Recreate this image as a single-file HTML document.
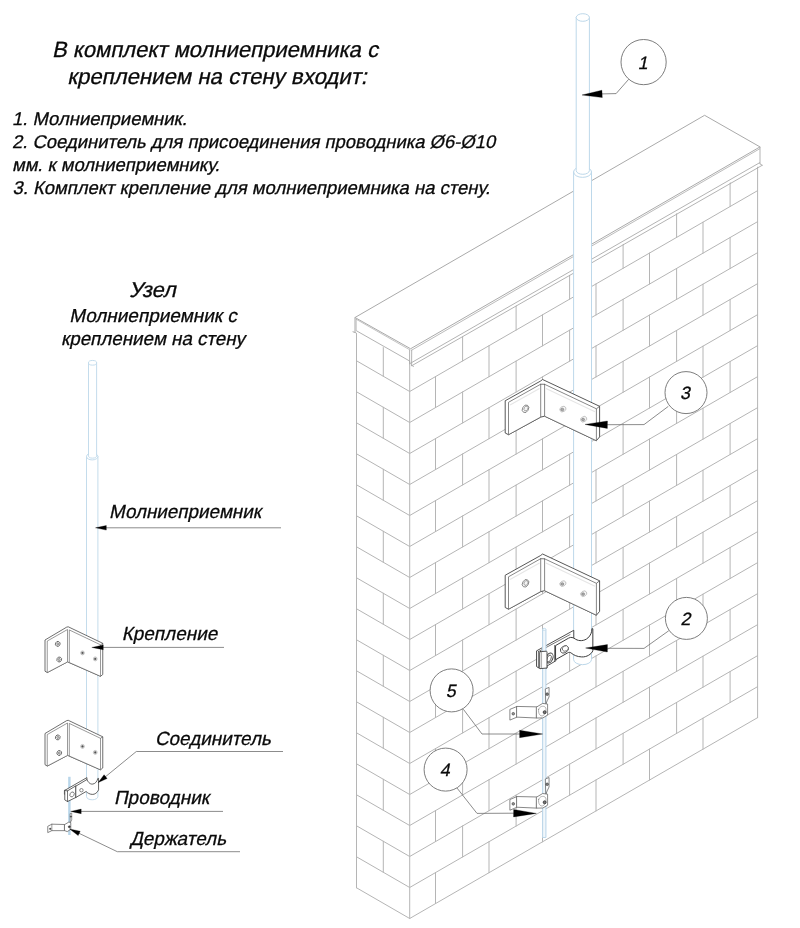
<!DOCTYPE html>
<html lang="ru"><head><meta charset="utf-8"><title>Молниеприемник с креплением на стену</title>
<style>
html,body{margin:0;padding:0;background:#fff;}
body{width:800px;height:928px;overflow:hidden;}
svg{display:block;will-change:transform;}
.t{font-family:"Liberation Sans",Arial,sans-serif;font-style:normal;fill:#0a0a0a;stroke:#0a0a0a;stroke-width:0.3px;}
</style></head><body>
<svg width="800" height="928" viewBox="0 0 800 928">
<rect width="800" height="928" fill="#fff"/>
<g id="wall">
<polygon points="409.7,360.5 757.6,159.64 757.6,717.64 409.7,918.5" fill="#fff" stroke="none" stroke-width="0" stroke-linejoin="round" />
<polygon points="409.7,360.5 356.5,329.78 356.5,887.78 409.7,918.5" fill="#fff" stroke="none" stroke-width="0" stroke-linejoin="round" />
<path d="M356.5 887.78 L409.7 918.5 L757.6 717.64 M356.5 856.78 L409.7 887.5 L757.6 686.64 M356.5 825.78 L409.7 856.5 L757.6 655.64 M356.5 794.78 L409.7 825.5 L757.6 624.64 M356.5 763.78 L409.7 794.5 L757.6 593.64 M356.5 732.78 L409.7 763.5 L757.6 562.64 M356.5 701.78 L409.7 732.5 L757.6 531.64 M356.5 670.78 L409.7 701.5 L757.6 500.64 M356.5 639.78 L409.7 670.5 L757.6 469.64 M356.5 608.78 L409.7 639.5 L757.6 438.64 M356.5 577.78 L409.7 608.5 L757.6 407.64 M356.5 546.78 L409.7 577.5 L757.6 376.64 M356.5 515.78 L409.7 546.5 L757.6 345.64 M356.5 484.78 L409.7 515.5 L757.6 314.64 M356.5 453.78 L409.7 484.5 L757.6 283.64 M356.5 422.78 L409.7 453.5 L757.6 252.64 M356.5 391.78 L409.7 422.5 L757.6 221.64 M356.5 360.78 L409.7 391.5 L757.6 190.64 M435.5 903.6 L435.5 872.6 M489 872.72 L489 841.72 M542.5 841.83 L542.5 810.83 M596 810.94 L596 779.94 M649.5 780.05 L649.5 749.05 M703 749.16 L703 718.16 M383.3 872.26 L383.3 841.26 M462.6 856.96 L462.6 825.96 M516.1 826.07 L516.1 795.07 M569.6 795.18 L569.6 764.18 M623.1 764.29 L623.1 733.29 M676.6 733.41 L676.6 702.41 M730.1 702.52 L730.1 671.52 M435.5 841.6 L435.5 810.6 M489 810.72 L489 779.72 M542.5 779.83 L542.5 748.83 M596 748.94 L596 717.94 M649.5 718.05 L649.5 687.05 M703 687.16 L703 656.16 M383.3 810.26 L383.3 779.26 M462.6 794.96 L462.6 763.96 M516.1 764.07 L516.1 733.07 M569.6 733.18 L569.6 702.18 M623.1 702.29 L623.1 671.29 M676.6 671.41 L676.6 640.41 M730.1 640.52 L730.1 609.52 M435.5 779.6 L435.5 748.6 M489 748.72 L489 717.72 M542.5 717.83 L542.5 686.83 M596 686.94 L596 655.94 M649.5 656.05 L649.5 625.05 M703 625.16 L703 594.16 M383.3 748.26 L383.3 717.26 M462.6 732.96 L462.6 701.96 M516.1 702.07 L516.1 671.07 M569.6 671.18 L569.6 640.18 M623.1 640.29 L623.1 609.29 M676.6 609.41 L676.6 578.41 M730.1 578.52 L730.1 547.52 M435.5 717.6 L435.5 686.6 M489 686.72 L489 655.72 M542.5 655.83 L542.5 624.83 M596 624.94 L596 593.94 M649.5 594.05 L649.5 563.05 M703 563.16 L703 532.16 M383.3 686.26 L383.3 655.26 M462.6 670.96 L462.6 639.96 M516.1 640.07 L516.1 609.07 M569.6 609.18 L569.6 578.18 M623.1 578.29 L623.1 547.29 M676.6 547.41 L676.6 516.41 M730.1 516.52 L730.1 485.52 M435.5 655.6 L435.5 624.6 M489 624.72 L489 593.72 M542.5 593.83 L542.5 562.83 M596 562.94 L596 531.94 M649.5 532.05 L649.5 501.05 M703 501.16 L703 470.16 M383.3 624.26 L383.3 593.26 M462.6 608.96 L462.6 577.96 M516.1 578.07 L516.1 547.07 M569.6 547.18 L569.6 516.18 M623.1 516.29 L623.1 485.29 M676.6 485.41 L676.6 454.41 M730.1 454.52 L730.1 423.52 M435.5 593.6 L435.5 562.6 M489 562.72 L489 531.72 M542.5 531.83 L542.5 500.83 M596 500.94 L596 469.94 M649.5 470.05 L649.5 439.05 M703 439.16 L703 408.16 M383.3 562.26 L383.3 531.26 M462.6 546.96 L462.6 515.96 M516.1 516.07 L516.1 485.07 M569.6 485.18 L569.6 454.18 M623.1 454.29 L623.1 423.29 M676.6 423.41 L676.6 392.41 M730.1 392.52 L730.1 361.52 M435.5 531.6 L435.5 500.6 M489 500.72 L489 469.72 M542.5 469.83 L542.5 438.83 M596 438.94 L596 407.94 M649.5 408.05 L649.5 377.05 M703 377.16 L703 346.16 M383.3 500.26 L383.3 469.26 M462.6 484.96 L462.6 453.96 M516.1 454.07 L516.1 423.07 M569.6 423.18 L569.6 392.18 M623.1 392.29 L623.1 361.29 M676.6 361.41 L676.6 330.41 M730.1 330.52 L730.1 299.52 M435.5 469.6 L435.5 438.6 M489 438.72 L489 407.72 M542.5 407.83 L542.5 376.83 M596 376.94 L596 345.94 M649.5 346.05 L649.5 315.05 M703 315.16 L703 284.16 M383.3 438.26 L383.3 407.26 M462.6 422.96 L462.6 391.96 M516.1 392.07 L516.1 361.07 M569.6 361.18 L569.6 330.18 M623.1 330.29 L623.1 299.29 M676.6 299.41 L676.6 268.41 M730.1 268.52 L730.1 237.52 M435.5 407.6 L435.5 376.6 M489 376.72 L489 345.72 M542.5 345.83 L542.5 314.83 M596 314.94 L596 283.94 M649.5 284.05 L649.5 253.05 M703 253.16 L703 222.16 M383.3 376.26 L383.3 345.26 M462.6 360.96 L462.6 329.96 M516.1 330.07 L516.1 299.07 M569.6 299.18 L569.6 268.18 M623.1 268.29 L623.1 237.29 M676.6 237.41 L676.6 206.41 M730.1 206.52 L730.1 175.52 M409.7 360.5 L409.7 918.5 M356.5 329.78 L356.5 887.78 M757.6 159.64 L757.6 717.64" fill="none" stroke="#b5b5b5" stroke-width="1" stroke-linejoin="round" stroke-linecap="round" />
</g>
<g id="cap">
<polygon points="355,317.5 410.6,348.75 760,146.9 704.6,115.3" fill="#fff" stroke="none" stroke-width="0" stroke-linejoin="round" />
<polygon points="410.6,348.75 760,146.9 760.6,165.1 411.6,365.8" fill="#fff" stroke="none" stroke-width="0" stroke-linejoin="round" />
<polygon points="355,317.5 410.6,348.75 410.6,361.5 355.3,332.3" fill="#fff" stroke="none" stroke-width="0" stroke-linejoin="round" />
<path d="M355 317.5 L704.6 115.3 L760 146.9" fill="none" stroke="#aaaaaa" stroke-width="1" stroke-linejoin="round" stroke-linecap="round" />
<line x1="355" y1="317.5" x2="410.6" y2="348.75" stroke="#aaaaaa" stroke-width="1" />
<line x1="355.9" y1="319.1" x2="410.2" y2="350.05" stroke="#aaaaaa" stroke-width="0.7" />
<line x1="410.6" y1="348.75" x2="760" y2="146.9" stroke="#aaaaaa" stroke-width="1" />
<line x1="411.2" y1="350.45" x2="760" y2="148.6" stroke="#aaaaaa" stroke-width="0.8" />
<line x1="410" y1="363.5" x2="760" y2="162.5" stroke="#aaaaaa" stroke-width="0.9" />
<line x1="411.6" y1="365.8" x2="762.2" y2="165.3" stroke="#aaaaaa" stroke-width="0.9" />
<line x1="409.6" y1="349.75" x2="409.6" y2="364.3" stroke="#aaaaaa" stroke-width="0.9" />
<line x1="411.7" y1="349.75" x2="411.6" y2="365.8" stroke="#aaaaaa" stroke-width="0.9" />
<path d="M411.3 365.2 l2.2 1.2" fill="none" stroke="#aaaaaa" stroke-width="0.9" stroke-linejoin="round" stroke-linecap="round" />
<line x1="760" y1="146.9" x2="760" y2="164.1" stroke="#aaaaaa" stroke-width="0.9" />
<path d="M760 163.9 l2.4 1.4" fill="none" stroke="#aaaaaa" stroke-width="0.9" stroke-linejoin="round" stroke-linecap="round" />
<line x1="355" y1="317.5" x2="355" y2="332.3" stroke="#aaaaaa" stroke-width="1" />
<line x1="356.2" y1="319" x2="356.2" y2="330.8" stroke="#aaaaaa" stroke-width="0.7" />
<path d="M355.6 332.7 l-2.6 -0.9" fill="none" stroke="#aaaaaa" stroke-width="1" stroke-linejoin="round" stroke-linecap="round" />
<line x1="356.3" y1="330.7" x2="409.6" y2="361" stroke="#aaaaaa" stroke-width="0.9" />
</g>
<g id="rod">
<path d="M573.6 172 L573.6 659.5 A8.95 5.17 0 0 0 591.5 659.5 L591.5 172 Z" fill="#fff" stroke="none" stroke-width="0" stroke-linejoin="round" stroke-linecap="round" />
<ellipse cx="582.55" cy="172" rx="8.95" ry="5.37" fill="#fff" stroke="#bdd8ea" stroke-width="1" />
<path d="M573.6 172 L573.6 659.5 A8.95 5.17 0 0 0 591.5 659.5 L591.5 172" fill="none" stroke="#bdd8ea" stroke-width="1" stroke-linejoin="round" stroke-linecap="round" />
<path d="M576.2 17.5 L576.2 170.5 A6.6 3.81 0 0 0 589.4 170.5 L589.4 17.5 Z" fill="#fff" stroke="#bdd8ea" stroke-width="1" stroke-linejoin="round" stroke-linecap="round" />
<ellipse cx="582.8" cy="17.5" rx="6.6" ry="3.81" fill="#fff" stroke="#bdd8ea" stroke-width="1" />
</g>
<g id="brackets">
<g>
<polygon points="505.2,400.75 540.3,381.2 542.6,379.5 599.6,406.3 599.6,436.9 596.4,440.7 544.6,416.2 540.7,417.1 508.5,434.7 505.2,433" fill="#fff" stroke="#444" stroke-width="0.9" stroke-linejoin="round" />
<polygon points="508.5,402.3 540.7,384.2 540.7,417.1 508.5,434.7" fill="#fff" stroke="#555" stroke-width="0.7" stroke-linejoin="round" />
<polygon points="544.6,384.3 596.4,408.8 596.4,440.7 544.6,416.2" fill="#fff" stroke="#555" stroke-width="0.7" stroke-linejoin="round" />
<path d="M540.7 384.2 L544.6 384.3" fill="none" stroke="#3c3c3c" stroke-width="0.7" stroke-linejoin="round" stroke-linecap="round" />
<line x1="596.4" y1="408.8" x2="599.6" y2="406.3" stroke="#3c3c3c" stroke-width="0.7" />
<line x1="510" y1="405" x2="539.5" y2="388.5" stroke="#e6e6e6" stroke-width="1.2" />
<line x1="546" y1="388.5" x2="595" y2="411.8" stroke="#e6e6e6" stroke-width="1.2" />
<ellipse cx="525.5" cy="408.8" rx="2.94" ry="4" fill="#fff" stroke="#666" stroke-width="0.7" transform="rotate(30 525.5 408.8)"/>
<ellipse cx="526" cy="408.5" rx="1.86" ry="2.56" fill="#f4f4f4" stroke="#777" stroke-width="0.6" transform="rotate(30 526 408.5)"/>
<ellipse cx="562.9" cy="409.1" rx="3.24" ry="2.56" fill="#f6f6f6" stroke="#a8a8a8" stroke-width="0.6" transform="rotate(-30 562.9 409.1)"/>
<ellipse cx="562.3" cy="409.5" rx="1.49" ry="1.35" fill="#aaa" stroke="#6a6a6a" stroke-width="0.5" />
<ellipse cx="583.7" cy="419.2" rx="3.24" ry="2.56" fill="#f6f6f6" stroke="#a8a8a8" stroke-width="0.6" transform="rotate(-30 583.7 419.2)"/>
<ellipse cx="583.1" cy="419.6" rx="1.49" ry="1.35" fill="#aaa" stroke="#6a6a6a" stroke-width="0.5" />
</g>
<g>
<polygon points="505.2,575.25 540.3,555.7 542.6,554 599.6,580.8 599.6,611.4 596.4,615.2 544.6,590.7 540.7,591.6 508.5,609.2 505.2,607.5" fill="#fff" stroke="#444" stroke-width="0.9" stroke-linejoin="round" />
<polygon points="508.5,576.8 540.7,558.7 540.7,591.6 508.5,609.2" fill="#fff" stroke="#555" stroke-width="0.7" stroke-linejoin="round" />
<polygon points="544.6,558.8 596.4,583.3 596.4,615.2 544.6,590.7" fill="#fff" stroke="#555" stroke-width="0.7" stroke-linejoin="round" />
<path d="M540.7 558.7 L544.6 558.8" fill="none" stroke="#3c3c3c" stroke-width="0.7" stroke-linejoin="round" stroke-linecap="round" />
<line x1="596.4" y1="583.3" x2="599.6" y2="580.8" stroke="#3c3c3c" stroke-width="0.7" />
<line x1="510" y1="579.5" x2="539.5" y2="563" stroke="#e6e6e6" stroke-width="1.2" />
<line x1="546" y1="563" x2="595" y2="586.3" stroke="#e6e6e6" stroke-width="1.2" />
<ellipse cx="525.5" cy="583.3" rx="2.94" ry="4" fill="#fff" stroke="#666" stroke-width="0.7" transform="rotate(30 525.5 583.3)"/>
<ellipse cx="526" cy="583" rx="1.86" ry="2.56" fill="#f4f4f4" stroke="#777" stroke-width="0.6" transform="rotate(30 526 583)"/>
<ellipse cx="562.9" cy="583.6" rx="3.24" ry="2.56" fill="#f6f6f6" stroke="#a8a8a8" stroke-width="0.6" transform="rotate(-30 562.9 583.6)"/>
<ellipse cx="562.3" cy="584" rx="1.49" ry="1.35" fill="#aaa" stroke="#6a6a6a" stroke-width="0.5" />
<ellipse cx="583.7" cy="593.7" rx="3.24" ry="2.56" fill="#f6f6f6" stroke="#a8a8a8" stroke-width="0.6" transform="rotate(-30 583.7 593.7)"/>
<ellipse cx="583.1" cy="594.1" rx="1.49" ry="1.35" fill="#aaa" stroke="#6a6a6a" stroke-width="0.5" />
</g>
</g>
<g id="clamp">
<path d="M 536.88 650.69 L 573.75 630.31 L 573.75 638.5 L 555.94 648.5 L 555.94 660.69 L 546.88 666.12 L 546.88 668.19 L 539.69 668.5 L 536.88 666.75 Z" fill="#fff" stroke="#3c3c3c" stroke-width="0.9" stroke-linejoin="round" stroke-linecap="round" />
<path d="M 538.44 651.62 L 570 634.62 M 538.44 651.62 L 538.44 667.56" fill="none" stroke="#3c3c3c" stroke-width="0.7" stroke-linejoin="round" stroke-linecap="round" />
<rect x="542.6" y="629.5" width="3.3" height="208" fill="#f1f7fb" stroke="none"/>
<line x1="542.6" y1="629.5" x2="542.6" y2="837.5" stroke="#bdd8ea" stroke-width="1.1" />
<line x1="545.9" y1="629.5" x2="545.9" y2="837.5" stroke="#bdd8ea" stroke-width="1.1" />
<ellipse cx="544.25" cy="629.3" rx="1.65" ry="1" fill="#fff" stroke="#bdd8ea" stroke-width="0.9" />
<line x1="542.6" y1="837.5" x2="545.9" y2="837.5" stroke="#bdd8ea" stroke-width="1" />
<ellipse cx="549.5" cy="658" rx="3.3" ry="5.2" fill="#fff" stroke="#3c3c3c" stroke-width="0.9" transform="rotate(22 549.5 658)"/>
<ellipse cx="549.12" cy="658.5" rx="1.9" ry="3.6" fill="#fff" stroke="#3c3c3c" stroke-width="0.7" transform="rotate(22 549.12 658.5)"/>
<path d="M 540.31 651.62 L 546.38 651.19 C 546.88 651.19 547 651.62 547 652.25 L 547 668 L 540.31 668.62 C 539.81 668.62 539.69 668.19 539.69 667.75 L 539.69 652.38 C 539.69 651.88 539.88 651.62 540.31 651.62 Z" fill="#fff" stroke="#3c3c3c" stroke-width="0.9" stroke-linejoin="round" stroke-linecap="round" />
<path d="M 541.56 651.62 L 541.56 668.5" fill="none" stroke="#777" stroke-width="0.6" stroke-linejoin="round" stroke-linecap="round" />
<path d="M 554.69 645.5 L 554.69 661.31" fill="none" stroke="#3c3c3c" stroke-width="0.8" stroke-linejoin="round" stroke-linecap="round" />
<path d="M 555.9 645.38 L 568.5 638.2 C 571.12 636.62 573.05 637.5 575.67 639.25 C 579 641.26 584.25 641.26 587.92 637.94 C 590.55 635.58 591.95 632.25 591.95 628.58 L 592.83 628.75 L 592.83 650.8 C 591.25 654.3 586.88 657.19 581.62 656.92 C 577.25 656.75 573.75 655.17 571.12 652.99 C 569.81 652.02 568.94 652.2 567.62 652.9 L 555.9 659.55 Z" fill="#fff" stroke="#3c3c3c" stroke-width="1" stroke-linejoin="round" stroke-linecap="round" />
<ellipse cx="564.38" cy="649.44" rx="4.2" ry="3.2" fill="#fff" stroke="#3c3c3c" stroke-width="0.8" transform="rotate(-28 564.38 649.44)"/>
<ellipse cx="565.31" cy="648.5" rx="3.2" ry="2.5" fill="#fff" stroke="#3c3c3c" stroke-width="0.6" transform="rotate(-28 565.31 648.5)"/>
</g>
<g id="holders">
<g>
<path d="M 545.69 688.77 L 549.06 687.42 L 549.06 696.88 L 547.15 700.81 L 545.91 704.19 Z" fill="#fff" stroke="#6a6a6a" stroke-width="0.8" stroke-linejoin="round" stroke-linecap="round" />
<ellipse cx="547.15" cy="694.17" rx="1.3" ry="1.3" fill="#888" stroke="#333" stroke-width="0.6" />
<path d="M 510.25 709.25 L 517 706.44 L 517 717.12 L 510.25 719.94 Z" fill="#fff" stroke="#6a6a6a" stroke-width="0.8" stroke-linejoin="round" stroke-linecap="round" />
<ellipse cx="513.29" cy="713.75" rx="1.3" ry="1.3" fill="#999" stroke="#333" stroke-width="0.6" />
<path d="M 517 706.44 L 537.25 706.89 L 536.69 718.02 L 517 717.12 Z" fill="#fff" stroke="#6a6a6a" stroke-width="0.8" stroke-linejoin="round" stroke-linecap="round" />
<path d="M 536.69 707 L 542.65 703.4 L 547.6 704.08 L 547.6 715.1 L 542.88 717.91 L 536.69 718.02 Z" fill="#fff" stroke="#6a6a6a" stroke-width="0.8" stroke-linejoin="round" stroke-linecap="round" />
<path d="M 538.6 709.48 C 539.5 706.44 542.88 705.31 545.12 707 C 546.81 708.69 546.25 713.75 542.88 715.77 C 540.06 716.56 538.15 713.75 538.6 709.48 Z" fill="#fff" stroke="#888" stroke-width="0.6400000000000001" stroke-linejoin="round" stroke-linecap="round" />
<ellipse cx="544.67" cy="712.17" rx="1.5" ry="1.5" fill="#777" stroke="#222" stroke-width="0.7" />
</g>
<g>
<path d="M 545.69 778.88 L 549.06 777.52 L 549.06 786.98 L 547.15 790.91 L 545.91 794.29 Z" fill="#fff" stroke="#6a6a6a" stroke-width="0.8" stroke-linejoin="round" stroke-linecap="round" />
<ellipse cx="547.15" cy="784.27" rx="1.3" ry="1.3" fill="#888" stroke="#333" stroke-width="0.6" />
<path d="M 510.25 799.35 L 517 796.54 L 517 807.23 L 510.25 810.04 Z" fill="#fff" stroke="#6a6a6a" stroke-width="0.8" stroke-linejoin="round" stroke-linecap="round" />
<ellipse cx="513.29" cy="803.85" rx="1.3" ry="1.3" fill="#999" stroke="#333" stroke-width="0.6" />
<path d="M 517 796.54 L 537.25 796.99 L 536.69 808.12 L 517 807.23 Z" fill="#fff" stroke="#6a6a6a" stroke-width="0.8" stroke-linejoin="round" stroke-linecap="round" />
<path d="M 536.69 797.1 L 542.65 793.5 L 547.6 794.18 L 547.6 805.2 L 542.88 808.01 L 536.69 808.12 Z" fill="#fff" stroke="#6a6a6a" stroke-width="0.8" stroke-linejoin="round" stroke-linecap="round" />
<path d="M 538.6 799.58 C 539.5 796.54 542.88 795.41 545.12 797.1 C 546.81 798.79 546.25 803.85 542.88 805.88 C 540.06 806.66 538.15 803.85 538.6 799.58 Z" fill="#fff" stroke="#888" stroke-width="0.6400000000000001" stroke-linejoin="round" stroke-linecap="round" />
<ellipse cx="544.67" cy="802.27" rx="1.5" ry="1.5" fill="#777" stroke="#222" stroke-width="0.7" />
</g>
</g>
<g id="callouts">
<path d="M628.4 79.6 L616.1 93.6 L602.1 93.9" fill="none" stroke="#6e6e6e" stroke-width="0.8" stroke-linejoin="round" stroke-linecap="round" />
<ellipse cx="643.6" cy="62.1" rx="22.6" ry="22.6" fill="#fff" stroke="#6e6e6e" stroke-width="0.9" />
<polygon points="582,95 601.9,90.21 602.3,97.59" fill="#000" stroke="#000" stroke-width="0.3" stroke-linejoin="round" />
<text transform="translate(642.6 68.7) skewX(-12)" font-size="17.8" text-anchor="middle" class="t">1</text>
<path d="M668 406.6 L644 424.6 L607.4 424.7" fill="none" stroke="#6e6e6e" stroke-width="0.8" stroke-linejoin="round" stroke-linecap="round" />
<ellipse cx="686" cy="392.6" rx="21" ry="21" fill="#fff" stroke="#6e6e6e" stroke-width="0.9" />
<polygon points="585,424.4 607.45,421 607.35,428.4" fill="#000" stroke="#000" stroke-width="0.3" stroke-linejoin="round" />
<text transform="translate(685 399.2) skewX(-12)" font-size="17.8" text-anchor="middle" class="t">3</text>
<path d="M668.4 631 L644 648.4 L607.4 648.3" fill="none" stroke="#6e6e6e" stroke-width="0.8" stroke-linejoin="round" stroke-linecap="round" />
<ellipse cx="686.4" cy="618.4" rx="21" ry="21" fill="#fff" stroke="#6e6e6e" stroke-width="0.9" />
<polygon points="585.6,648 607.45,644.6 607.35,652" fill="#000" stroke="#000" stroke-width="0.3" stroke-linejoin="round" />
<text transform="translate(685.4 625) skewX(-12)" font-size="17.8" text-anchor="middle" class="t">2</text>
<path d="M463.6 709.6 L482 734 L519.6 734" fill="none" stroke="#6e6e6e" stroke-width="0.8" stroke-linejoin="round" stroke-linecap="round" />
<ellipse cx="451.6" cy="690.4" rx="21.5" ry="21.5" fill="#fff" stroke="#6e6e6e" stroke-width="0.9" />
<polygon points="542.6,734 519.6,737.7 519.6,730.3" fill="#000" stroke="#000" stroke-width="0.3" stroke-linejoin="round" />
<text transform="translate(450.6 697) skewX(-12)" font-size="17.8" text-anchor="middle" class="t">5</text>
<path d="M457 788 L477 813.4 L513.6 813.2" fill="none" stroke="#6e6e6e" stroke-width="0.8" stroke-linejoin="round" stroke-linecap="round" />
<ellipse cx="445.6" cy="769.6" rx="21.5" ry="21.5" fill="#fff" stroke="#6e6e6e" stroke-width="0.9" />
<polygon points="536.4,813.4 513.57,816.9 513.63,809.5" fill="#000" stroke="#000" stroke-width="0.3" stroke-linejoin="round" />
<text transform="translate(444.6 776.2) skewX(-12)" font-size="17.8" text-anchor="middle" class="t">4</text>
</g>
<g id="left">
<path d="M86.5 456.5 L86.5 796.5 A5.7 3.29 0 0 0 97.9 796.5 L97.9 456.5" fill="#fff" stroke="#bdd8ea" stroke-width="0.9" stroke-linejoin="round" stroke-linecap="round" />
<ellipse cx="92.2" cy="456.5" rx="5.7" ry="3.42" fill="#fff" stroke="#bdd8ea" stroke-width="0.9" />
<path d="M88.5 362.8 L88.5 455.8 A4.05 2.34 0 0 0 96.6 455.8 L96.6 362.8 Z" fill="#fff" stroke="#bdd8ea" stroke-width="0.9" stroke-linejoin="round" stroke-linecap="round" />
<ellipse cx="92.55" cy="362.8" rx="4.05" ry="2.34" fill="#fff" stroke="#bdd8ea" stroke-width="0.9" />
<g>
<polygon points="45,640 66.75,627.1 68.25,626.8 102.75,643.3 102.75,674.5 100.5,676.3 67.5,661.9 47.25,672.55 45,671.2" fill="#fff" stroke="#4a4a4a" stroke-width="0.8" stroke-linejoin="round" />
<polygon points="47.25,641.05 67.5,629.5 67.5,661.9 47.25,672.55" fill="#fff" stroke="#555" stroke-width="0.6" stroke-linejoin="round" />
<polygon points="69.3,629.95 100.5,644.8 100.5,676.3 69.3,662.5" fill="#fff" stroke="#555" stroke-width="0.6" stroke-linejoin="round" />
<line x1="100.5" y1="644.8" x2="102.75" y2="643.3" stroke="#3c3c3c" stroke-width="0.6" />
<ellipse cx="57.75" cy="643.9" rx="2.3" ry="2.5" fill="#fff" stroke="#444" stroke-width="0.7" transform="rotate(25 57.75 643.9)"/>
<ellipse cx="57.75" cy="643.9" rx="1" ry="1.2" fill="#ccc" stroke="#555" stroke-width="0.5" />
<ellipse cx="59.25" cy="659.5" rx="2.3" ry="2.5" fill="#fff" stroke="#444" stroke-width="0.7" transform="rotate(25 59.25 659.5)"/>
<ellipse cx="59.25" cy="659.5" rx="1" ry="1.2" fill="#ccc" stroke="#555" stroke-width="0.5" />
<ellipse cx="82.5" cy="652.9" rx="1.9" ry="2" fill="#eee" stroke="#999" stroke-width="0.5" />
<ellipse cx="82.5" cy="652.9" rx="0.9" ry="0.9" fill="#555" stroke="#444" stroke-width="0.4" />
<ellipse cx="95.25" cy="658.9" rx="1.9" ry="2" fill="#eee" stroke="#999" stroke-width="0.5" />
<ellipse cx="95.25" cy="658.9" rx="0.9" ry="0.9" fill="#555" stroke="#444" stroke-width="0.4" />
</g>
<g>
<polygon points="45,733.5 66.75,720.6 68.25,720.3 102.75,736.8 102.75,768 100.5,769.8 67.5,755.4 47.25,766.05 45,764.7" fill="#fff" stroke="#4a4a4a" stroke-width="0.8" stroke-linejoin="round" />
<polygon points="47.25,734.55 67.5,723 67.5,755.4 47.25,766.05" fill="#fff" stroke="#555" stroke-width="0.6" stroke-linejoin="round" />
<polygon points="69.3,723.45 100.5,738.3 100.5,769.8 69.3,756" fill="#fff" stroke="#555" stroke-width="0.6" stroke-linejoin="round" />
<line x1="100.5" y1="738.3" x2="102.75" y2="736.8" stroke="#3c3c3c" stroke-width="0.6" />
<ellipse cx="57.75" cy="737.4" rx="2.3" ry="2.5" fill="#fff" stroke="#444" stroke-width="0.7" transform="rotate(25 57.75 737.4)"/>
<ellipse cx="57.75" cy="737.4" rx="1" ry="1.2" fill="#ccc" stroke="#555" stroke-width="0.5" />
<ellipse cx="59.25" cy="753" rx="2.3" ry="2.5" fill="#fff" stroke="#444" stroke-width="0.7" transform="rotate(25 59.25 753)"/>
<ellipse cx="59.25" cy="753" rx="1" ry="1.2" fill="#ccc" stroke="#555" stroke-width="0.5" />
<ellipse cx="82.5" cy="746.4" rx="1.9" ry="2" fill="#eee" stroke="#999" stroke-width="0.5" />
<ellipse cx="82.5" cy="746.4" rx="0.9" ry="0.9" fill="#555" stroke="#444" stroke-width="0.4" />
<ellipse cx="95.25" cy="752.4" rx="1.9" ry="2" fill="#eee" stroke="#999" stroke-width="0.5" />
<ellipse cx="95.25" cy="752.4" rx="0.9" ry="0.9" fill="#555" stroke="#444" stroke-width="0.4" />
</g>
<rect x="68.17" y="776.79" width="2.43" height="58.22" fill="#b9d6ea" stroke="none"/>
<g>
<path d="M 64.77 790.38 L 86.93 777.6 L 86.93 781.16 L 64.77 794.1 Z" fill="#fff" stroke="#3c3c3c" stroke-width="0.8" stroke-linejoin="round" stroke-linecap="round" />
<path d="M 64.77 790.38 L 64.77 799.92 L 67.52 801.54 L 76.09 797.33 L 76.09 785.69 L 67.52 790.86 Z" fill="#fff" stroke="#3c3c3c" stroke-width="0.8" stroke-linejoin="round" stroke-linecap="round" />
<path d="M 67.52 790.86 L 67.52 801.54" fill="none" stroke="#3c3c3c" stroke-width="0.7" stroke-linejoin="round" stroke-linecap="round" />
<path d="M 76.09 786.01 L 86.93 779.54 C 88.54 783.1 90.65 784.39 92.75 784.07 C 95.01 783.75 96.95 781.97 97.92 778.25 L 98.57 778.41 L 98.57 789.89 C 97.28 792.8 94.69 794.58 92.26 794.42 C 89.51 794.26 87.41 792.8 86.12 791.51 L 76.09 797.33 Z" fill="#fff" stroke="#3c3c3c" stroke-width="0.8" stroke-linejoin="round" stroke-linecap="round" />
<ellipse cx="81.43" cy="790.22" rx="1.7" ry="1.7" fill="#fff" stroke="#3c3c3c" stroke-width="0.6" />
<ellipse cx="72.05" cy="794.42" rx="2" ry="2.6" fill="#fff" stroke="#3c3c3c" stroke-width="0.6" transform="rotate(30 72.05 794.42)"/>
</g>
<g>
<path d="M 70.43 813.5 L 71.73 813.02 L 71.73 819.97 L 70.43 822.4 Z" fill="#fff" stroke="#555" stroke-width="0.6" stroke-linejoin="round" stroke-linecap="round" />
<ellipse cx="70.92" cy="816.58" rx="0.7" ry="0.7" fill="#333" stroke="#333" stroke-width="0.4" />
<path d="M 48.11 826.12 L 51.83 824.18 L 64.77 824.5 L 64.77 830.65 L 51.83 830.65 L 48.11 832.43 Z" fill="#fff" stroke="#555" stroke-width="0.7" stroke-linejoin="round" stroke-linecap="round" />
<path d="M 51.83 824.18 L 51.83 830.65" fill="none" stroke="#555" stroke-width="0.6" stroke-linejoin="round" stroke-linecap="round" />
<path d="M 64.77 824.5 L 68.81 822.08 L 70.75 822.56 L 70.75 829.35 L 67.2 831.62 L 64.77 830.65 Z" fill="#fff" stroke="#555" stroke-width="0.7" stroke-linejoin="round" stroke-linecap="round" />
<ellipse cx="50.22" cy="828.87" rx="0.8" ry="0.8" fill="#444" stroke="#333" stroke-width="0.4" />
<ellipse cx="69.3" cy="826.77" rx="1" ry="1" fill="#444" stroke="#222" stroke-width="0.5" />
</g>
<polyline points="106,527.8 281,527.8" fill="none" stroke="#6e6e6e" stroke-width="0.8" stroke-linejoin="round" />
<polygon points="95.5,527.8 106.3,525.5 106.3,530.1" fill="#000" stroke="#000" stroke-width="0.3" stroke-linejoin="round" />
<polyline points="103,647.4 224,647.4" fill="none" stroke="#6e6e6e" stroke-width="0.8" stroke-linejoin="round" />
<polygon points="91.8,647.4 103.2,645.1 103.2,649.7" fill="#000" stroke="#000" stroke-width="0.3" stroke-linejoin="round" />
<polyline points="104.5,777.5 136.3,751.5 283,751.5" fill="none" stroke="#6e6e6e" stroke-width="0.8" stroke-linejoin="round" />
<polygon points="98.2,782.6 104.09,774.74 107.11,778.46" fill="#000" stroke="#000" stroke-width="0.3" stroke-linejoin="round" />
<polyline points="81,811.4 223,811.4" fill="none" stroke="#6e6e6e" stroke-width="0.8" stroke-linejoin="round" />
<polygon points="70.7,811.4 81.2,809.1 81.2,813.7" fill="#000" stroke="#000" stroke-width="0.3" stroke-linejoin="round" />
<polyline points="78,832.8 117.3,851.7 240,851.7" fill="none" stroke="#6e6e6e" stroke-width="0.8" stroke-linejoin="round" />
<polygon points="69.6,829 80.2,831.22 78.2,835.58" fill="#000" stroke="#000" stroke-width="0.3" stroke-linejoin="round" />
</g>
<g id="texts">
<text id="t1" transform="translate(52 57) skewX(-12)" font-size="22.1" class="t" textLength="326" lengthAdjust="spacingAndGlyphs">В комплект молниеприемника с</text>
<text id="t2" transform="translate(67.2 84.4) skewX(-12)" font-size="22.1" class="t" textLength="299.8" lengthAdjust="spacingAndGlyphs">креплением на стену входит:</text>
<text id="l1" transform="translate(12 125) skewX(-12)" font-size="18.4" class="t" textLength="174.82" lengthAdjust="spacingAndGlyphs">1. Молниеприемник.</text>
<text id="l2" transform="translate(12 147.8) skewX(-12)" font-size="18.4" class="t" textLength="483.2" lengthAdjust="spacingAndGlyphs">2. Соединитель для присоединения проводника Ø6-Ø10</text>
<text id="l3" transform="translate(12 170.7) skewX(-12)" font-size="18.4" class="t" textLength="207.63" lengthAdjust="spacingAndGlyphs">мм. к молниеприемнику.</text>
<text id="l4" transform="translate(12.4 193.5) skewX(-12)" font-size="18.4" class="t" textLength="477.61" lengthAdjust="spacingAndGlyphs">3. Комплект крепление для молниеприемника на стену.</text>
<text id="u1" transform="translate(129 297) skewX(-12)" font-size="21.6" class="t" textLength="46.81" lengthAdjust="spacingAndGlyphs">Узел</text>
<text id="u2" transform="translate(69.2 322) skewX(-12)" font-size="18.85" class="t" textLength="167.61" lengthAdjust="spacingAndGlyphs">Молниеприемник с</text>
<text id="u3" transform="translate(61 344.5) skewX(-12)" font-size="18.85" class="t" textLength="184.01" lengthAdjust="spacingAndGlyphs">креплением на стену</text>
<text id="m1" transform="translate(109 517.5) skewX(-12)" font-size="19.0" class="t" textLength="152.01" lengthAdjust="spacingAndGlyphs">Молниеприемник</text>
<text id="m2" transform="translate(121.8 640) skewX(-12)" font-size="19.0" class="t" textLength="95.42" lengthAdjust="spacingAndGlyphs">Крепление</text>
<text id="m3" transform="translate(155 744.5) skewX(-12)" font-size="19.0" class="t" textLength="115.83" lengthAdjust="spacingAndGlyphs">Соединитель</text>
<text id="m4" transform="translate(114 804.3) skewX(-12)" font-size="19.0" class="t" textLength="95.01" lengthAdjust="spacingAndGlyphs">Проводник</text>
<text id="m5" transform="translate(130 844.5) skewX(-12)" font-size="19.0" class="t" textLength="96.01" lengthAdjust="spacingAndGlyphs">Держатель</text>
</g>
</svg>
</body></html>
